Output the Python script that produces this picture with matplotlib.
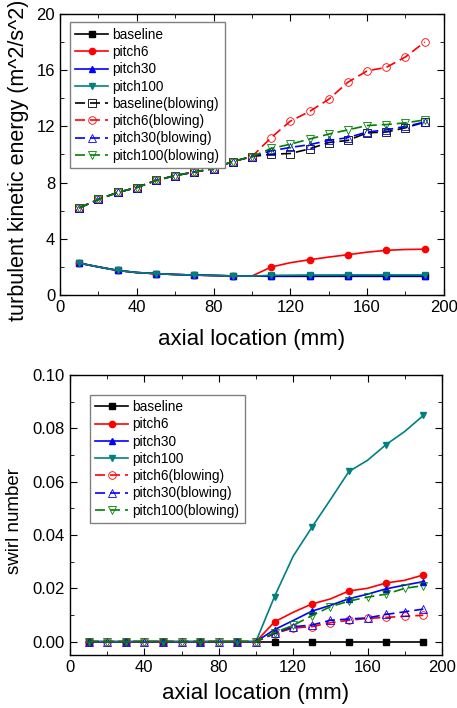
import matplotlib
matplotlib.use("Agg")
import matplotlib.pyplot as plt
from matplotlib.ticker import MultipleLocator, FormatStrFormatter

plt.rcParams['font.family'] = ['Liberation Sans', 'DejaVu Sans']

x = [10, 20, 30, 40, 50, 60, 70, 80, 90, 100, 110, 120, 130, 140, 150, 160, 170, 180, 190]

# turbulent kinetic energy, no blowing
tke_up = [2.27, 2.0, 1.75, 1.6, 1.52, 1.46, 1.42, 1.39, 1.36, 1.35]
tke_baseline = tke_up + [1.33, 1.33, 1.33, 1.33, 1.33, 1.33, 1.33, 1.33, 1.33]
tke_pitch6 = tke_up + [1.99, 2.3, 2.51, 2.7, 2.87, 3.05, 3.18, 3.24, 3.26]
tke_pitch30 = tke_up + [1.37, 1.37, 1.38, 1.38, 1.38, 1.38, 1.38, 1.38, 1.38]
tke_pitch100 = tke_up + [1.4, 1.41, 1.42, 1.42, 1.43, 1.43, 1.43, 1.43, 1.43]

# turbulent kinetic energy, with blowing
tke_bl_up = [6.2, 6.8, 7.3, 7.65, 8.15, 8.5, 8.75, 9.0, 9.5, 9.85]
tke_baseline_bl = tke_bl_up + [10.02, 10.07, 10.4, 10.85, 11.0, 11.54, 11.6, 11.9, 12.3]
tke_pitch6_bl = tke_bl_up + [11.2, 12.37, 13.06, 13.93, 15.14, 15.95, 16.2, 16.94, 18.0]
tke_pitch30_bl = tke_bl_up + [10.26, 10.5, 10.7, 11.0, 11.2, 11.6, 11.75, 12.0, 12.3]
tke_pitch100_bl = tke_bl_up + [10.43, 10.73, 11.1, 11.45, 11.75, 12.06, 12.13, 12.25, 12.46]

# swirl number
sw_up = [0.0] * 10
sw_baseline = sw_up + [0.0] * 9
sw_pitch6 = sw_up + [0.0074, 0.011, 0.0141, 0.016, 0.019, 0.020, 0.022, 0.023, 0.025]
sw_pitch30 = sw_up + [0.0045, 0.0079, 0.0114, 0.0136, 0.0161, 0.0178, 0.0198, 0.0212, 0.0225]
sw_pitch100 = sw_up + [0.0169, 0.032, 0.0428, 0.0532, 0.0638, 0.068, 0.0739, 0.0788, 0.0848]
sw_pitch6_bl = sw_up + [0.003, 0.0051, 0.0056, 0.0071, 0.008, 0.0087, 0.0091, 0.0095, 0.0099]
sw_pitch30_bl = sw_up + [0.0031, 0.0056, 0.0062, 0.008, 0.0085, 0.0089, 0.0102, 0.0112, 0.0122]
sw_pitch100_bl = sw_up + [0.0034, 0.0061, 0.0097, 0.0131, 0.0152, 0.0167, 0.0178, 0.020, 0.021]

RED = '#ff0000'
BLUE = '#0000ff'
TEAL = '#008080'
GREEN = '#008000'
DASH = (0, (6, 3))


def solid(ax, y, color, marker, label):
    ax.plot(x, y, color=color, lw=1.2, marker=marker, ms=4.5, mfc=color,
            mec=color, markevery=2, label=label)


def hollow(ax, y, color, marker, label):
    ax.plot(x, y, color=color, lw=1.2, ls=DASH, marker=marker, ms=5.5,
            mfc='none', mec=color, mew=0.6, label=label)


def style(ax, ylabel, ysize, lx, pad):
    ax.set_xlim(0, 200)
    ax.xaxis.set_major_locator(MultipleLocator(40))
    ax.xaxis.set_minor_locator(MultipleLocator(20))
    ax.tick_params(which='both', direction='in', top=True, right=True,
                   labelsize=12)
    ax.tick_params(which='major', length=5)
    ax.tick_params(which='minor', length=3)
    ax.set_xlabel('axial location (mm)', fontsize=16, labelpad=pad)
    ax.set_ylabel(ylabel, fontsize=ysize)
    ax.yaxis.set_label_coords(lx, 0.48)
    for s in ax.spines.values():
        s.set_linewidth(1.0)


def legend(ax, anchor):
    ax.legend(loc='upper left', bbox_to_anchor=anchor, fontsize=9.8,
              fancybox=False, edgecolor='#808080', framealpha=1,
              handlelength=2.4, handletextpad=0.3, labelspacing=0.24,
              borderpad=0.4, borderaxespad=0)


fig = plt.figure(figsize=(4.57, 7.08), dpi=100)

# upper panel: turbulent kinetic energy
ax1 = fig.add_axes([0.1313, 0.5833, 0.840, 0.397])
solid(ax1, tke_baseline, 'black', 's', 'baseline')
solid(ax1, tke_pitch6, RED, 'o', 'pitch6')
solid(ax1, tke_pitch30, BLUE, '^', 'pitch30')
solid(ax1, tke_pitch100, TEAL, 'v', 'pitch100')
hollow(ax1, tke_baseline_bl, 'black', 's', 'baseline(blowing)')
hollow(ax1, tke_pitch6_bl, RED, 'o', 'pitch6(blowing)')
hollow(ax1, tke_pitch30_bl, BLUE, '^', 'pitch30(blowing)')
hollow(ax1, tke_pitch100_bl, GREEN, 'v', 'pitch100(blowing)')
ax1.set_ylim(0, 20)
ax1.yaxis.set_major_locator(MultipleLocator(4))
ax1.yaxis.set_minor_locator(MultipleLocator(2))
style(ax1, 'turbulent kinetic energy (m^2/s^2)', 15.5, -0.08, 10)
legend(ax1, (0.026, 0.97))

# lower panel: swirl number
ax2 = fig.add_axes([0.153, 0.0749, 0.814, 0.3955])
solid(ax2, sw_baseline, 'black', 's', 'baseline')
solid(ax2, sw_pitch6, RED, 'o', 'pitch6')
solid(ax2, sw_pitch30, BLUE, '^', 'pitch30')
solid(ax2, sw_pitch100, TEAL, 'v', 'pitch100')
hollow(ax2, sw_pitch6_bl, RED, 'o', 'pitch6(blowing)')
hollow(ax2, sw_pitch30_bl, BLUE, '^', 'pitch30(blowing)')
hollow(ax2, sw_pitch100_bl, GREEN, 'v', 'pitch100(blowing)')
ax2.set_ylim(-0.005, 0.10)
ax2.yaxis.set_major_locator(MultipleLocator(0.02))
ax2.yaxis.set_minor_locator(MultipleLocator(0.01))
ax2.yaxis.set_major_formatter(FormatStrFormatter('%.2f'))
style(ax2, 'swirl number', 13.5, -0.125, 6)
legend(ax2, (0.054, 0.93))

fig.savefig('out.png', dpi=100)
